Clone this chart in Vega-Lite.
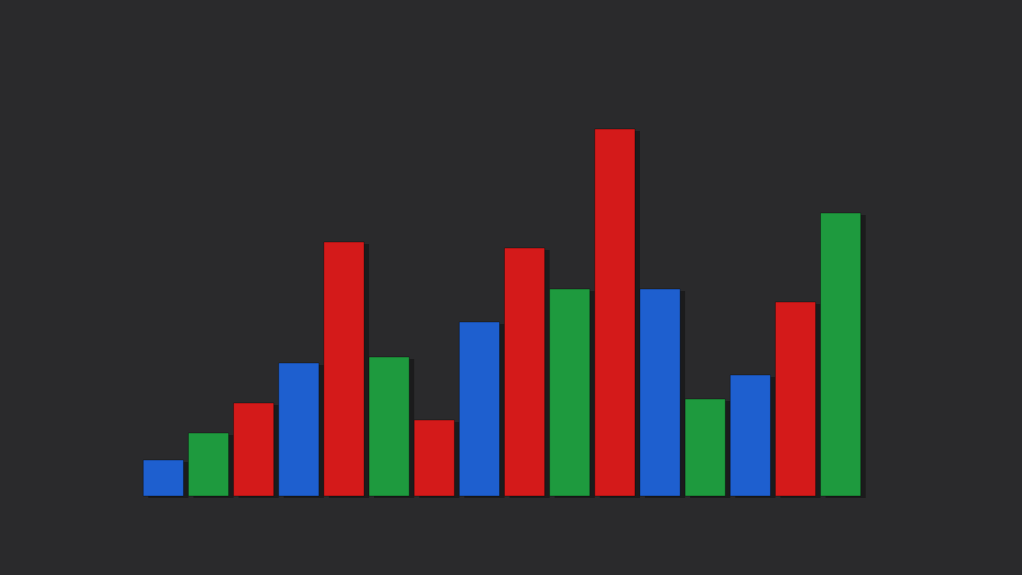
{
  "$schema": "https://vega.github.io/schema/vega-lite/v6.json",
  "width": 722,
  "height": 496,
  "padding": {"left": 141, "top": 0, "right": 159, "bottom": 79},
  "autosize": {"type": "none"},
  "background": "#2a2a2c",
  "config": {"view": {"stroke": null}},
  "data": {
    "values": [
      {"bar": 1, "color": "blue", "value": 36},
      {"bar": 2, "color": "green", "value": 63},
      {"bar": 3, "color": "red", "value": 93},
      {"bar": 4, "color": "blue", "value": 133},
      {"bar": 5, "color": "red", "value": 254},
      {"bar": 6, "color": "green", "value": 139},
      {"bar": 7, "color": "red", "value": 76},
      {"bar": 8, "color": "blue", "value": 174},
      {"bar": 9, "color": "red", "value": 248},
      {"bar": 10, "color": "green", "value": 207},
      {"bar": 11, "color": "red", "value": 367},
      {"bar": 12, "color": "blue", "value": 207},
      {"bar": 13, "color": "green", "value": 97},
      {"bar": 14, "color": "blue", "value": 121},
      {"bar": 15, "color": "red", "value": 194},
      {"bar": 16, "color": "green", "value": 283}
    ]
  },
  "encoding": {
    "x": {
      "field": "bar",
      "type": "ordinal",
      "axis": null,
      "scale": {"paddingInner": 0.11, "paddingOuter": 0.05}
    },
    "y": {
      "field": "value",
      "type": "quantitative",
      "axis": null,
      "scale": {"domain": [0, 496], "nice": false}
    }
  },
  "layer": [
    {
      "mark": {"type": "bar", "color": "#000000", "opacity": 0.35, "xOffset": 5, "yOffset": 2}
    },
    {
      "mark": {"type": "bar", "stroke": "#00000055", "strokeWidth": 1},
      "encoding": {
        "color": {
          "field": "color",
          "type": "nominal",
          "legend": null,
          "scale": {"domain": ["blue", "green", "red"], "range": ["#1e5fcf", "#1e9a3e", "#d41a1a"]}
        }
      }
    }
  ]
}
